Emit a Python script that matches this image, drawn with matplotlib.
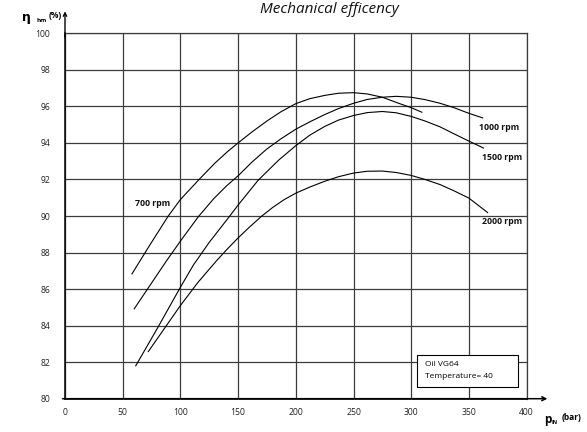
import matplotlib
matplotlib.use("Agg")
import matplotlib.pyplot as plt
from matplotlib.patches import Rectangle

# ---- data ----
x_700 = [58, 73.6, 89.5, 100, 116.2, 130, 141.3, 150, 162, 175, 187, 200, 212, 225, 237, 250, 262, 275, 290, 300, 309.2]
y_700 = [86.83, 88.42, 90.0, 90.9, 92.0, 92.9, 93.55, 94.0, 94.6, 95.2, 95.7, 96.15, 96.42, 96.6, 96.72, 96.75, 96.68, 96.5, 96.15, 95.93, 95.68]

x_1000 = [60, 80, 88.1, 100.4, 115.4, 128.9, 140, 150, 162, 174.6, 187, 200, 212, 225, 237, 250, 262, 275, 287, 300, 312, 325, 337, 350, 361.9]
y_1000 = [84.92, 86.8, 87.56, 88.66, 89.95, 90.95, 91.65, 92.2, 92.95, 93.65, 94.22, 94.75, 95.15, 95.55, 95.88, 96.17, 96.38, 96.5, 96.55, 96.5, 96.37, 96.17, 95.93, 95.62, 95.37]

x_1500 = [61.3, 80, 100, 111.1, 124.9, 142.8, 150, 167.3, 185, 200, 212, 225, 237, 250, 262, 275, 287, 300, 312, 325, 337, 350, 362.6]
y_1500 = [81.8, 83.85, 86.1, 87.3, 88.55, 90.0, 90.6, 91.95, 93.05, 93.85, 94.42, 94.9, 95.25, 95.5, 95.66, 95.72, 95.65, 95.45, 95.2, 94.88, 94.5, 94.1, 93.72]

x_2000 = [72.2, 100, 115, 131.3, 140, 150, 160, 170, 180, 190, 200, 212, 225, 237, 250, 262, 275, 287, 300, 312, 325, 337, 350, 366.2]
y_2000 = [82.58, 85.1, 86.35, 87.55, 88.15, 88.8, 89.4, 89.97, 90.47, 90.9, 91.25, 91.58, 91.9, 92.15, 92.35, 92.45, 92.46, 92.38, 92.22, 92.0, 91.72, 91.38, 90.98, 90.19]

series = [("700 rpm", x_700, y_700), ("1000 rpm", x_1000, y_1000),
          ("1500 rpm", x_1500, y_1500), ("2000 rpm", x_2000, y_2000)]

x_ticks = [0, 50, 100, 150, 200, 250, 300, 350, 400]
y_ticks = [80, 82, 84, 86, 88, 90, 92, 94, 96, 98, 100]

title = "Mechanical efficency"
note_lines = ["Oil VG64", "Temperature= 40"]

# ---- figure ----
W, H = 587, 432
fig = plt.figure(figsize=(W / 100, H / 100), dpi=100)
plt.rcParams['font.family'] = ['Open Sans', 'DejaVu Sans']

left_px, right_px, top_px, bot_px = 65, 526.6, 33.3, 398.7
ax = fig.add_axes([left_px / W, 1 - bot_px / H, (right_px - left_px) / W, (bot_px - top_px) / H])
ax.set_xlim(0, 400)
ax.set_ylim(80, 100)
ax.set_xticks(x_ticks)
ax.set_yticks(y_ticks)
ax.set_xticklabels([str(v) for v in x_ticks], fontsize=6.2, color='#222222')
ax.set_yticklabels([str(v) for v in y_ticks], fontsize=6.2, color='#222222')
ax.tick_params(axis='x', length=0, pad=6.5)
ax.tick_params(axis='y', length=0, pad=10.5)
ax.grid(True, color='#3c3c3c', linewidth=0.9)
ax.set_axisbelow(True)
for s in ['top', 'right']:
    ax.spines[s].set_color('#3c3c3c')
    ax.spines[s].set_linewidth(0.9)
for s in ['left', 'bottom']:
    ax.spines[s].set_color('black')
    ax.spines[s].set_linewidth(1.1)

for name, xs, ys in series:
    ax.plot(xs, ys, color='black', linewidth=0.8, zorder=3, solid_joinstyle='round')

# curve labels
lab_kw = dict(fontsize=6.3, fontweight='bold', color='#111111', va='center', ha='left', zorder=4)
ax.text(60.7, 90.67, "700 rpm", **lab_kw)
ax.text(359, 94.83, "1000 rpm", **lab_kw)
ax.text(361.5, 93.22, "1500 rpm", **lab_kw)
ax.text(361.5, 89.7, "2000 rpm", **lab_kw)

# note box
ax.add_patch(Rectangle((305.3, 80.62), 87.5, 1.79, facecolor='white', edgecolor='black',
                       linewidth=0.8, zorder=5))
ax.text(312, 81.86, note_lines[0], fontsize=6, va='center', ha='left', zorder=6)
ax.text(312, 81.22, note_lines[1], fontsize=6, va='center', ha='left', zorder=6)

# axis arrows
ax.annotate("", xy=(418, 80), xytext=(-2.2, 80), xycoords='data',
            arrowprops=dict(arrowstyle='->', color='black', lw=1.1, mutation_scale=7,
                            shrinkA=0, shrinkB=0), annotation_clip=False)
ax.annotate("", xy=(0, 101.2), xytext=(0, 99.8), xycoords='data',
            arrowprops=dict(arrowstyle='->', color='black', lw=1.0, mutation_scale=6,
                            shrinkA=0, shrinkB=0), annotation_clip=False)

# title
fig.text(329 / W, 1 - 13 / H, title, fontsize=11, style='italic', ha='center', va='baseline',
         color='#111111')

# y label
fig.text(22 / W, 1 - 18 / H, "η", fontsize=9, fontweight='bold', family='DejaVu Sans',
         ha='left', va='center')
fig.text(37 / W, 1 - 20 / H, "hm", fontsize=4.5, fontweight='bold', ha='left', va='center')
fig.text(49 / W, 1 - 16 / H, "(%)", fontsize=6, fontweight='bold', ha='left', va='center')

# x label
fig.text(544 / W, 1 - 420 / H, "p", fontsize=8.5, fontweight='bold', ha='left', va='center')
fig.text(552 / W, 1 - 423 / H, "IN", fontsize=3.8, fontweight='bold', ha='left', va='center')
fig.text(562 / W, 1 - 418 / H, "(bar)", fontsize=6, fontweight='bold', ha='left', va='center')

fig.savefig("out.png", dpi=100)
